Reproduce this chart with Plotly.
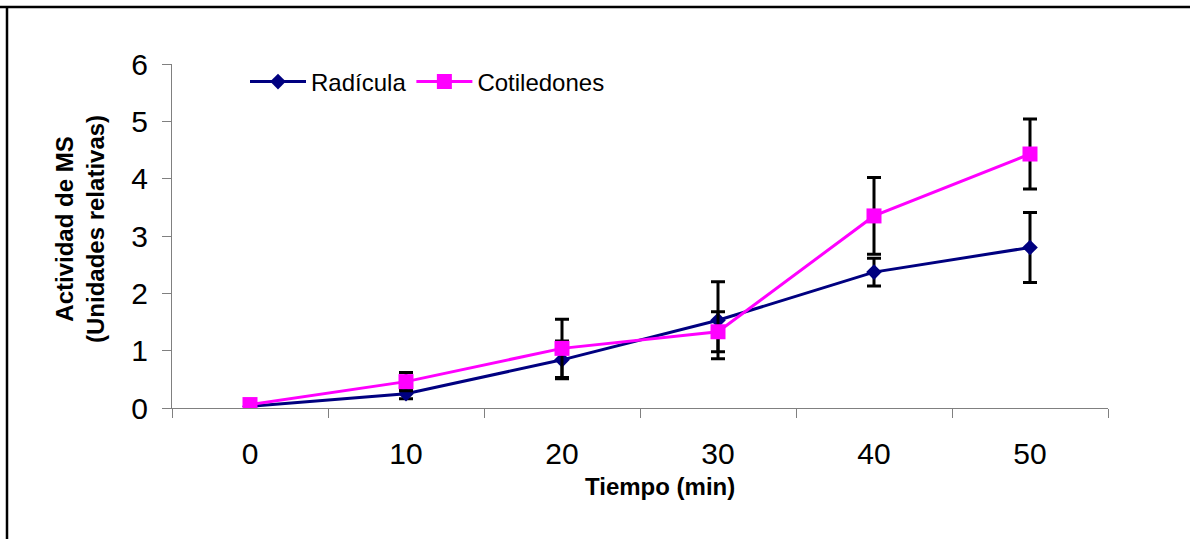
import plotly.graph_objects as go

tiempo = ["0", "10", "20", "30", "40", "50"]
radicula = [0.03, 0.25, 0.84, 1.53, 2.37, 2.80]
radicula_err = [0.02, 0.09, 0.33, 0.67, 0.24, 0.61]
cotiledones = [0.06, 0.46, 1.04, 1.33, 3.35, 4.43]
cotiledones_err = [0.02, 0.16, 0.51, 0.35, 0.67, 0.61]

W, H = 1190, 539
L, R, T, B = 172, 82, 64, 131
pw, ph = W - L - R, H - T - B


def px_x(p):
    return (p - L) / pw


def px_y(p):
    return (H - B - p) / ph


FONT = "Liberation Sans, Arial, sans-serif"

fig = go.Figure()
fig.add_trace(go.Scatter(
    x=tiempo, y=radicula, name="Radícula", mode="lines+markers",
    line=dict(color="#000080", width=3),
    marker=dict(symbol="diamond", size=12, color="#000080"),
    error_y=dict(type="data", array=radicula_err, visible=True,
                 color="black", thickness=3, width=7),
))
fig.add_trace(go.Scatter(
    x=tiempo, y=cotiledones, name="Cotiledones", mode="lines+markers",
    line=dict(color="#FF00FF", width=3),
    marker=dict(symbol="square", size=15, color="#FF00FF"),
    error_y=dict(type="data", array=cotiledones_err, visible=True,
                 color="black", thickness=3, width=7),
))

fig.update_layout(
    width=W, height=H,
    margin=dict(l=L, r=R, t=T, b=B),
    paper_bgcolor="white", plot_bgcolor="white",
    font=dict(family=FONT, color="black"),
    showlegend=True,
    legend=dict(orientation="h", x=px_x(245), y=px_y(82), xanchor="left",
                yanchor="middle", font=dict(size=24, family=FONT),
                bgcolor="rgba(0,0,0,0)", itemwidth=56, tracegroupgap=0),
    xaxis=dict(type="category", range=[-0.5, 5.5], showline=True,
               linecolor="#808080", linewidth=1, ticks="outside",
               tickson="boundaries", ticklen=9, tickcolor="#808080",
               showgrid=False, zeroline=False,
               tickfont=dict(size=30, family=FONT), ticklabelstandoff=19),
    yaxis=dict(range=[0, 6], dtick=1, showline=True, linecolor="#808080",
               linewidth=1, ticks="outside", ticklen=9, tickcolor="#808080",
               showgrid=False, zeroline=False,
               tickfont=dict(size=30, family=FONT), ticklabelstandoff=8),
    annotations=[
        dict(text="<b>Actividad de MS</b><br><b>(Unidades relativas)</b>",
             textangle=-90, xref="paper", yref="paper",
             x=px_x(80), y=px_y(229), xanchor="center", yanchor="middle",
             showarrow=False, font=dict(size=24, family=FONT)),
        dict(text="<b>Tiempo (min)</b>", xref="paper", yref="paper",
             x=px_x(660), y=px_y(486), xanchor="center", yanchor="middle",
             showarrow=False, font=dict(size=24, family=FONT)),
    ],
    shapes=[
        dict(type="line", xref="paper", yref="paper",
             x0=px_x(0), x1=px_x(W), y0=px_y(7), y1=px_y(7),
             line=dict(color="black", width=2.5)),
        dict(type="line", xref="paper", yref="paper",
             x0=px_x(7), x1=px_x(7), y0=px_y(6), y1=px_y(H),
             line=dict(color="black", width=2.5)),
    ],
)

fig.write_html("out.html")
